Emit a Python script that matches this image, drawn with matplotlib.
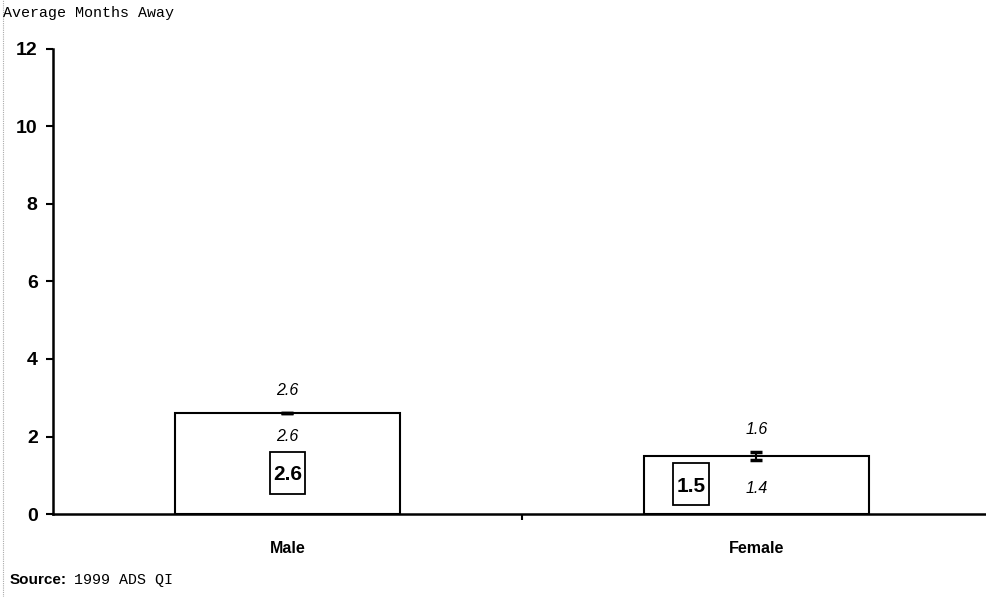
import numpy as np
import matplotlib.pyplot as plt
from matplotlib.patches import Rectangle

plt.rcParams['font.family'] = ['Liberation Sans', 'DejaVu Sans']

# data
groups = ["Male", "Female"]
means = [2.6, 1.5]
lower = [2.6, 1.4]
upper = [2.6, 1.6]
yticks = [0, 2, 4, 6, 8, 10, 12]

fig = plt.figure(figsize=(9.87, 5.97), dpi=100)
ax = fig.add_axes([0.0537, 0.139, 0.950, 0.779])

x = np.arange(len(groups))
ax.bar(x, means, width=0.48, color="white", edgecolor="black", linewidth=1.5, zorder=2)

m = np.array(means)
err = [m - np.array(lower), np.array(upper) - m]
ax.errorbar(x, means, yerr=err, fmt="none", ecolor="black", elinewidth=1.5,
            capsize=4, capthick=2.5, zorder=3)

# interval labels
ax.text(x[0], upper[0] + 0.6, "%.1f" % upper[0], ha="center", va="center",
        fontsize=11.5, style="italic")
ax.text(x[0], lower[0] - 0.6, "%.1f" % lower[0], ha="center", va="center",
        fontsize=11.5, style="italic")
ax.text(x[1], upper[1] + 0.57, "%.1f" % upper[1], ha="center", va="center",
        fontsize=11.5, style="italic")
ax.text(x[1], lower[1] - 0.73, "%.1f" % lower[1], ha="center", va="center",
        fontsize=11.5, style="italic")

# boxed mean values
box_pos = [(x[0], means[0] - 1.54), (x[1] - 0.139, means[1] - 0.73)]
for (bx, by), v in zip(box_pos, means):
    ax.text(bx, by - 0.05, "%.1f" % v, ha="center", va="center",
            fontsize=15, fontweight="bold", zorder=5)
    ax.add_patch(Rectangle((bx - 0.0375, by - 0.54), 0.075, 1.08, facecolor="white",
                           edgecolor="black", linewidth=1.3, zorder=4))

ax.set_xlim(-0.5, 1.5)
ax.set_ylim(0, 12)
ax.set_yticks(yticks)
ax.set_yticklabels([str(t) for t in yticks], fontsize=14, fontweight="bold")
ax.set_xticks([0.5])
ax.set_xticklabels([""])
for i, g in enumerate(groups):
    ax.text(i, -0.88, g, ha="center", va="center", fontsize=11.5, fontweight="bold")

ax.tick_params(axis="y", length=5, width=1.5, direction="out", pad=6)
ax.tick_params(axis="x", length=4, width=1.5, direction="out")
for s in ["top", "right"]:
    ax.spines[s].set_visible(False)
for s in ["left", "bottom"]:
    ax.spines[s].set_linewidth(1.8)

fig.text(0.003, 0.978, "Average Months Away", family="Liberation Mono", fontsize=10.8,
         ha="left", va="center")
fig.text(0.010, 0.028, "Source:", fontsize=11, fontweight="bold", ha="left", va="center")
fig.text(0.075, 0.028, "1999 ADS QI", family="Liberation Mono", fontsize=10.8,
         ha="left", va="center")

# faint scan edge on the left
fig.add_artist(plt.Line2D([0.003, 0.003], [0.0, 1.0], color="#aaaaaa", linewidth=0.8,
                          linestyle=(0, (1, 1)), transform=fig.transFigure))

fig.savefig("out.png", dpi=100)
